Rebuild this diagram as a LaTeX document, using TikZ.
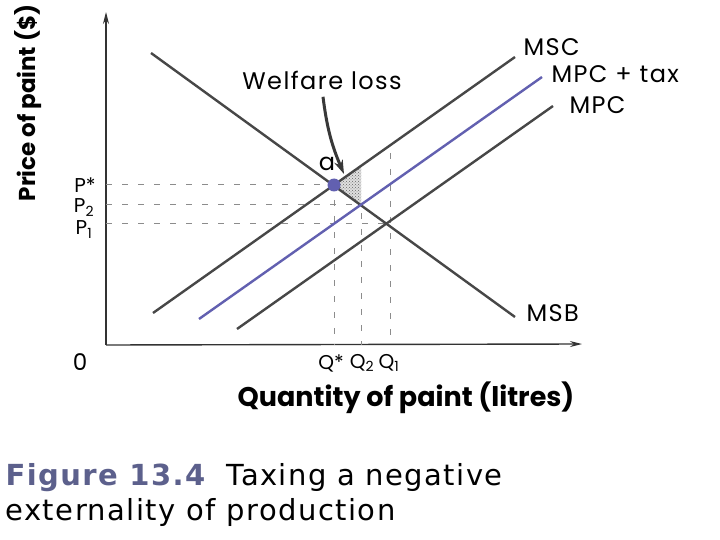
\documentclass[tikz,border=0pt]{standalone}
\usepackage{fontspec}
\setmainfont{Poppins}
\newfontfamily\lblfont{Poppins}[LetterSpace=6]
\newfontfamily\capfont{DejaVu Sans}[LetterSpace=5]
\usetikzlibrary{patterns,arrows.meta}
\definecolor{taxblue}{RGB}{98,96,176}
\definecolor{capblue}{RGB}{92,96,140}

\begin{document}
\begin{tikzpicture}[
			x = 1pt, y = -1pt, % pixel grid of the scan
			> = {Stealth[length=14pt,width=9pt]}, % arrow head style
			font=\lblfont\fontsize{24}{28}\selectfont
			]
			
			\tikzstyle{curve}=[
			draw = black!72,
			line width = 2.4pt
			]
			\tikzstyle{guide}=[
			draw = black!45,
			line width = 1pt,
			dash pattern = on 6pt off 10pt
			]
			\tikzstyle{axis}=[
			draw = black!80,
			line width = 1.4pt,
			-{Stealth[length=12pt,width=6pt]}
			]
			\tikzstyle{tick label}=[
			inner sep = 0pt,
			font=\fontsize{20}{23}\selectfont
			]
			
			\fill[white] (0,0) rectangle (720,540);
			\useasboundingbox (0,0) rectangle (720,540);
			
			% axes
			\coordinate (origin) at (106,345);
			\coordinate (yTop) at (106,12);
			\coordinate (xEnd) at (582,344);
			\draw[axis] (origin) -- (yTop);
			\draw[axis] (origin) -- (xEnd);
			
			% curve end points and crossings
			\coordinate (msbA) at (151,53);
			\coordinate (msbB) at (515,317);
			\coordinate (mscA) at (153,313);
			\coordinate (mscB) at (515,57);
			\coordinate (taxA) at (199,319);
			\coordinate (taxB) at (542,77);
			\coordinate (mpcA) at (237,329);
			\coordinate (mpcB) at (553,106);
			\coordinate (eA) at (334,185);
			\coordinate (eTwo) at (361,205);
			\coordinate (eOne) at (388,224);
			\coordinate (lossTop) at (361,166);
			
			% welfare loss triangle
			\fill[gray!25] (eA) -- (lossTop) -- (eTwo) -- cycle;
			\fill[pattern=crosshatch dots, pattern color=black!60] (eA) -- (lossTop) -- (eTwo) -- cycle;
			
			% dashed guides
			\coordinate (yStar) at (106,185);
			\coordinate (yTwo) at (106,205);
			\coordinate (yOne) at (106,224);
			\coordinate (qStarFoot) at (334,345);
			\coordinate (qTwoFoot) at (361,345);
			\coordinate (qOneFoot) at (390,345);
			\coordinate (qStarTop) at (334,200);
			\coordinate (qTwoTop) at (361,213);
			\coordinate (qOneTop) at (390,153);
			\path[guide]
			(yStar) edge (eA)
			(yTwo) edge (eTwo)
			(yOne) edge (eOne)
			(qStarTop) edge (qStarFoot)
			(qTwoTop) edge (qTwoFoot)
			(qOneTop) edge (qOneFoot);
			
			% curves
			\draw[curve] (msbA) -- (msbB);
			\draw[curve] (mscA) -- (mscB);
			\draw[curve] (mpcA) -- (mpcB);
			\draw[curve, draw=taxblue] (taxA) -- (taxB);
			\fill[taxblue] (eA) circle (6.5pt);
			
			% curve labels
			\node[anchor=west] (lMSC) at (520,47) {MSC};
			\node[anchor=west] (lTax) at (548,74) {MPC + tax};
			\node[anchor=west] (lMPC) at (566,105) {MPC};
			\node[anchor=west] (lMSB) at (523,313) {MSB};
			\node (la) at (327,164) {a};
			
			% welfare loss arrow
			\node (lLoss) at (322,80) {Welfare loss};
			\coordinate (lossTip) at (344,174);
			\draw[->, line width=3pt, draw=black!78] (lLoss.south) ++(1,4) to[bend right=8] (lossTip);
			
			% axis labels
			\node[tick label, anchor=base] (pStar) at (85,193) {P*};
			\node[tick label, anchor=base] (pTwo) at (84,213) {P$_{\mathrm{2}}$};
			\node[tick label, anchor=base] (pOne) at (84,235) {P$_{\mathrm{1}}$};
			\node[tick label, font=\fontsize{23}{26}\selectfont] (zero) at (80,362) {0};
			\node[tick label] (qStar) at (331,363) {Q*};
			\node[tick label] (qTwo) at (362,363) {Q$_{\mathrm{2}}$};
			\node[tick label] (qOne) at (389,363) {Q$_{\mathrm{1}}$};
			\node[font=\bfseries\fontsize{27}{31}\selectfont] (xTitle) at (406,398) {Quantity of paint (litres)};
			\node[font=\bfseries\fontsize{23}{26}\selectfont, rotate=90] (yTitle) at (28,103) {Price of paint (\$)};
			
			% caption
			\node[anchor=west, align=left, font=\capfont\fontsize{29}{35}\selectfont] (caption) at (2,495)
			{\textcolor{capblue}{\bfseries Figure 13.4}\ \ Taxing a negative\\externality of production};
			
		\end{tikzpicture}
\end{document}
